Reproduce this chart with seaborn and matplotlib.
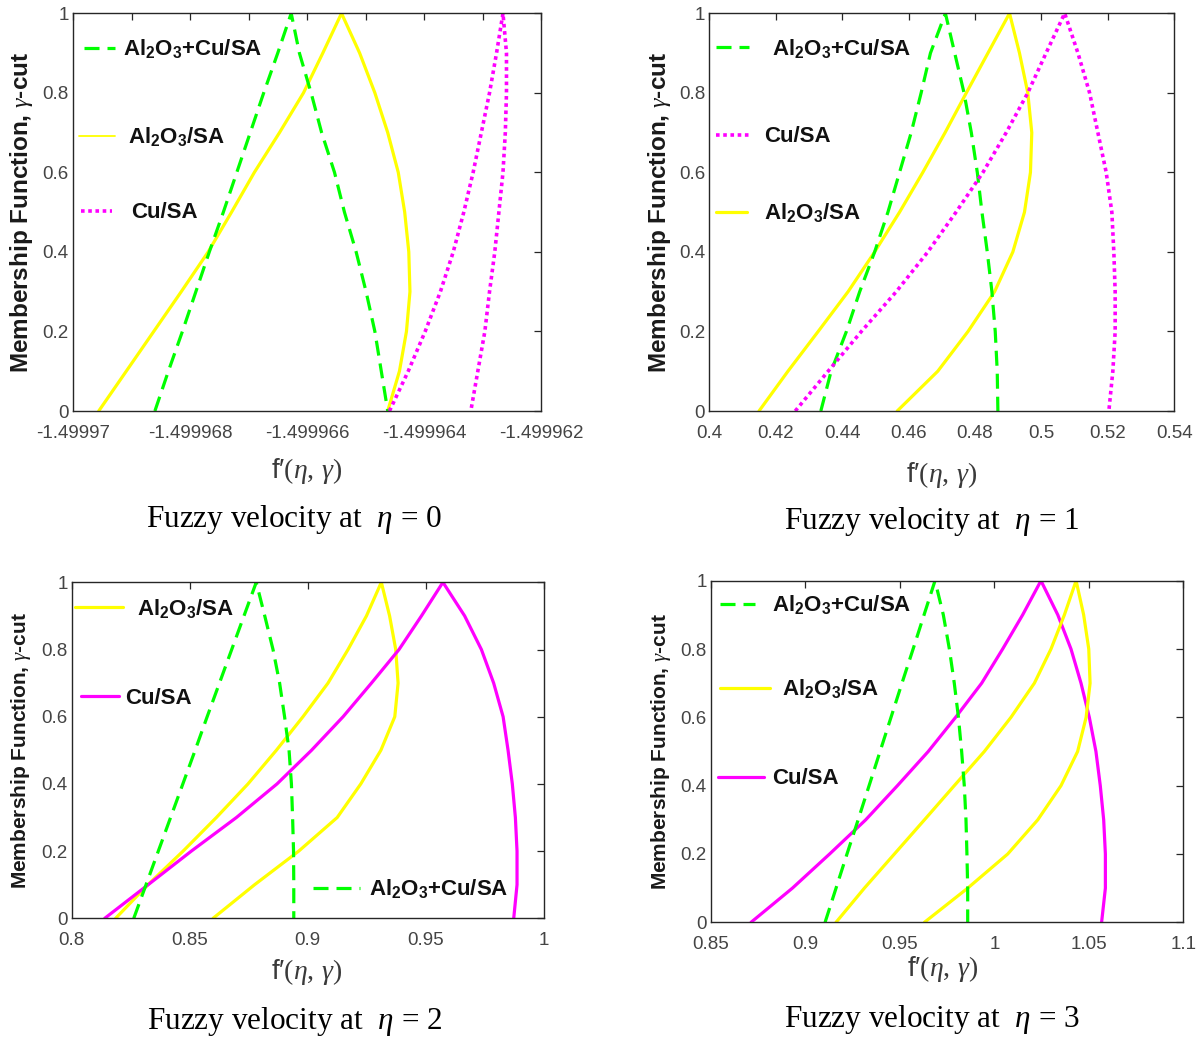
import numpy as np
import pandas as pd
import matplotlib
matplotlib.use("Agg")
import matplotlib.pyplot as plt
from matplotlib.lines import Line2D
from matplotlib.legend import Legend
import seaborn as sns

# ---------------- data ----------------
gamma = [0.0, 0.1, 0.2, 0.3, 0.4, 0.5, 0.6, 0.7, 0.8, 0.9, 1.0]

# eta = 0  (lower / upper bounds of f' for each gamma-cut)
e0_hyb_lo = [-1.4999686, -1.49996837, -1.49996813, -1.4999679, -1.49996767, -1.49996743,
             -1.4999672, -1.49996697, -1.49996674, -1.4999665, -1.49996627]
e0_hyb_hi = [-1.49996462, -1.49996473, -1.49996484, -1.49996499, -1.49996516, -1.49996536,
             -1.49996553, -1.49996575, -1.49996593, -1.49996613, -1.49996627]
e0_al_lo = [-1.49996956, -1.49996909, -1.49996862, -1.49996815, -1.49996769, -1.49996729,
            -1.4999669, -1.49996647, -1.49996606, -1.49996573, -1.49996541]
e0_al_hi = [-1.49996462, -1.49996442, -1.4999643, -1.49996424, -1.49996426, -1.49996433,
            -1.49996444, -1.49996462, -1.49996484, -1.4999651, -1.49996541]
e0_cu_lo = [-1.49996459, -1.49996427, -1.49996398, -1.49996372, -1.4999635, -1.49996332,
            -1.49996316, -1.49996302, -1.49996288, -1.49996276, -1.49996265]
e0_cu_hi = [-1.4999632, -1.49996308, -1.49996296, -1.49996288, -1.49996279, -1.49996272,
            -1.49996265, -1.49996261, -1.49996259, -1.49996259, -1.49996265]

# eta = 1
e1_hyb_lo = [0.4336, 0.4367, 0.4413, 0.4453, 0.4498, 0.4538, 0.4573, 0.4608, 0.4638, 0.4666, 0.4711]
e1_hyb_hi = [0.4869, 0.4867, 0.4861, 0.4851, 0.4837, 0.4821, 0.4807, 0.4789, 0.4767, 0.4739, 0.4711]
e1_al_lo = [0.4150, 0.4237, 0.4328, 0.4418, 0.4498, 0.4573, 0.4643, 0.4710, 0.4774, 0.4839, 0.4904]
e1_al_hi = [0.4566, 0.4688, 0.4779, 0.4859, 0.4914, 0.4949, 0.4967, 0.4971, 0.4959, 0.4934, 0.4904]
e1_cu_lo = [0.4259, 0.4358, 0.4458, 0.4563, 0.4658, 0.4743, 0.4824, 0.4894, 0.4959, 0.5014, 0.5070]
e1_cu_hi = [0.5203, 0.5215, 0.5222, 0.5222, 0.5218, 0.5212, 0.5195, 0.5170, 0.5145, 0.5110, 0.5070]

# eta = 2
e2_hyb_lo = [0.8263, 0.8315, 0.8367, 0.8419, 0.8471, 0.8523, 0.8574, 0.8626, 0.8678, 0.8730, 0.8782]
e2_hyb_hi = [0.8941, 0.8941, 0.8940, 0.8936, 0.8931, 0.8921, 0.8902, 0.8881, 0.8853, 0.8818, 0.8782]
e2_al_lo = [0.8186, 0.8323, 0.8472, 0.8613, 0.8747, 0.8867, 0.8980, 0.9086, 0.9171, 0.9249, 0.9312]
e2_al_hi = [0.8599, 0.8775, 0.8962, 0.9125, 0.9225, 0.9310, 0.9369, 0.9383, 0.9373, 0.9347, 0.9312]
e2_cu_lo = [0.8140, 0.8324, 0.8507, 0.8698, 0.8870, 0.9016, 0.9150, 0.9270, 0.9387, 0.9482, 0.9573]
e2_cu_hi = [0.9873, 0.9887, 0.9887, 0.9880, 0.9867, 0.9849, 0.9828, 0.9788, 0.9736, 0.9665, 0.9573]

# eta = 3
e3_hyb_lo = [0.9104, 0.9162, 0.9220, 0.9279, 0.9337, 0.9395, 0.9453, 0.9511, 0.9570, 0.9628, 0.9686]
e3_hyb_hi = [0.9859, 0.9859, 0.9855, 0.9850, 0.9841, 0.9827, 0.9810, 0.9788, 0.9762, 0.9730, 0.9686]
e3_al_lo = [0.9162, 0.9312, 0.9471, 0.9630, 0.9788, 0.9947, 1.0088, 1.0212, 1.0300, 1.0371, 1.0433]
e3_al_hi = [0.9630, 0.9859, 1.0071, 1.0230, 1.0353, 1.0441, 1.0486, 1.0507, 1.0500, 1.0473, 1.0433]
e3_cu_lo = [0.8712, 0.8931, 0.9128, 0.9319, 0.9487, 0.9650, 0.9795, 0.9933, 1.0044, 1.0150, 1.0247]
e3_cu_hi = [1.0568, 1.0588, 1.0588, 1.0579, 1.0561, 1.0538, 1.0503, 1.0459, 1.0406, 1.0336, 1.0247]

y_ticks = [0, 0.2, 0.4, 0.6, 0.8, 1.0]
y_ticklabels = ["0", "0.2", "0.4", "0.6", "0.8", "1"]

x0_ticks = [-1.49997, -1.499969, -1.499968, -1.499967, -1.499966, -1.499965, -1.499964, -1.499963, -1.499962]
x0_ticklabels = ["-1.49997", "", "-1.499968", "", "-1.499966", "", "-1.499964", "", "-1.499962"]
x1_ticks = [0.40, 0.42, 0.44, 0.46, 0.48, 0.50, 0.52, 0.54]
x1_ticklabels = ["0.4", "0.42", "0.44", "0.46", "0.48", "0.5", "0.52", "0.54"]
x2_ticks = [0.80, 0.85, 0.90, 0.95, 1.00]
x2_ticklabels = ["0.8", "0.85", "0.9", "0.95", "1"]
x3_ticks = [0.85, 0.90, 0.95, 1.00, 1.05, 1.10]
x3_ticklabels = ["0.85", "0.9", "0.95", "1", "1.05", "1.1"]

lab_hyb = r"Al$_\mathbf{2}$O$_\mathbf{3}$+Cu/SA"
lab_al = r"Al$_\mathbf{2}$O$_\mathbf{3}$/SA"
lab_cu = "Cu/SA"

x_label = "f\u2032" + r"$(\eta,\,\gamma)$"
y_label = r"Membership Function, $\gamma$-cut"

captions = [r"Fuzzy velocity at  $\eta$ = 0", r"Fuzzy velocity at  $\eta$ = 1",
            r"Fuzzy velocity at  $\eta$ = 2", r"Fuzzy velocity at  $\eta$ = 3"]

# ---------------- style ----------------
sns.set_style("white")
plt.rcParams["font.family"] = ["Liberation Sans", "DejaVu Sans"]
plt.rcParams["mathtext.fontset"] = "custom"
plt.rcParams["mathtext.rm"] = "Liberation Serif"
plt.rcParams["mathtext.it"] = "Liberation Serif:italic"
plt.rcParams["mathtext.bf"] = "Liberation Sans:bold"
plt.rcParams["mathtext.sf"] = "Liberation Sans"

W, H = 1203, 1041
fig = plt.figure(figsize=(W / 100, H / 100), dpi=100)
fig.patch.set_facecolor("white")

GREEN = "#00FF00"
YELLOW = "#FFFF00"
MAGENTA = "#FF00FF"
DASH = (4.7, 2.5)
DOT = (1.0, 1.0)
FRAME = "#262626"
TICKC = "#444444"


def add_axes_px(left, right, top, bottom):
    return fig.add_axes([left / W, 1 - bottom / H, (right - left) / W, (bottom - top) / H])


def draw(ax, lo, hi, color, pattern=None, lw=2.3):
    df = pd.DataFrame({"f": list(lo) + list(hi)[::-1], "g": gamma + gamma[::-1]})
    sns.lineplot(data=df, x="f", y="g", sort=False, estimator=None, color=color,
                 lw=lw, ax=ax, legend=False)
    line = ax.lines[-1]
    line.set_solid_joinstyle("round")
    if pattern is not None:
        line.set_dashes(pattern)
        line.set_dash_capstyle("butt")


def key(ax, px0, px1, pxt, py, label, color, lw=2.3, pattern=None, fs=16):
    h = Line2D([], [], color=color, lw=lw)
    if pattern is not None:
        h.set_dashes(pattern)
        h.set_dash_capstyle("butt")
    fs_px = fs / 72 * 100
    bb = ax.get_position()
    axx = (px0 / W - bb.x0) / bb.width
    axy = ((1 - py / H) - bb.y0) / bb.height
    leg = Legend(ax, [h], [label], loc="center left", bbox_to_anchor=(axx, axy),
                 frameon=False, borderpad=0, borderaxespad=0,
                 handlelength=(px1 - px0) / fs_px, handletextpad=(pxt - px1) / fs_px,
                 prop={"family": "Liberation Sans", "weight": "bold", "size": fs},
                 labelcolor="#111111")
    ax.add_artist(leg)


def style_axes(ax, xlim, xticks, xticklabels, rect, ylab_right, ylab_fs, xlab_top, xlab_cx):
    left, right, top, bottom = rect
    ax.set_xlim(*xlim)
    ax.set_ylim(0, 1)
    ax.set_xticks(xticks)
    ax.set_xticklabels(xticklabels)
    ax.set_yticks(y_ticks)
    ax.set_yticklabels(y_ticklabels)
    ax.tick_params(direction="in", length=5, width=0.9, color=FRAME, top=True, right=True,
                   labelsize=13.5, labelcolor=TICKC)
    ax.tick_params(axis="x", pad=10)
    ax.tick_params(axis="y", pad=3)
    for s in ax.spines.values():
        s.set_visible(True)
        s.set_color(FRAME)
        s.set_linewidth(1.0)
    ax.set_ylabel(y_label, fontsize=ylab_fs, fontweight="bold", color="#1a1a1a")
    ax.yaxis.set_label_coords((ylab_right - left) / (right - left), 0.5)
    ax.set_xlabel(x_label, fontsize=20, color="#3a3a3a")
    ax.xaxis.set_label_coords((xlab_cx - left) / (right - left), -(xlab_top - bottom) / (bottom - top))


# ---- panel eta = 0 ----
r0 = (73, 541, 13.3, 411)
ax0 = add_axes_px(*r0)
draw(ax0, e0_al_lo, e0_al_hi, YELLOW)
draw(ax0, e0_hyb_lo, e0_hyb_hi, GREEN, DASH)
draw(ax0, e0_cu_lo, e0_cu_hi, MAGENTA, DOT, lw=2.6)
style_axes(ax0, (-1.49997, -1.499962), x0_ticks, x0_ticklabels, r0, 35, 17.5, 456, 307)
key(ax0, 84, 115, 123, 49, lab_hyb, GREEN, pattern=DASH)
key(ax0, 79, 115, 128, 137, lab_al, YELLOW, lw=1.3)
key(ax0, 81, 112, 131, 213, lab_cu, MAGENTA, lw=2.6, pattern=DOT)

# ---- panel eta = 1 ----
r1 = (709.2, 1174.3, 13.3, 411)
ax1 = add_axes_px(*r1)
draw(ax1, e1_al_lo, e1_al_hi, YELLOW)
draw(ax1, e1_hyb_lo, e1_hyb_hi, GREEN, DASH)
draw(ax1, e1_cu_lo, e1_cu_hi, MAGENTA, DOT, lw=2.6)
style_axes(ax1, (0.40, 0.54), x1_ticks, x1_ticklabels, r1, 673, 17.5, 460, 942)
key(ax1, 716, 749, 772, 48, lab_hyb, GREEN, pattern=DASH)
key(ax1, 716, 752, 764, 137, lab_cu, MAGENTA, lw=2.6, pattern=DOT)
key(ax1, 716, 747, 764, 213, lab_al, YELLOW)

# ---- panel eta = 2 ----
r2 = (71.7, 543.7, 582.3, 918.3)
ax2 = add_axes_px(*r2)
draw(ax2, e2_al_lo, e2_al_hi, YELLOW)
draw(ax2, e2_cu_lo, e2_cu_hi, MAGENTA)
draw(ax2, e2_hyb_lo, e2_hyb_hi, GREEN, DASH)
style_axes(ax2, (0.80, 1.00), x2_ticks, x2_ticklabels, r2, 33, 15, 957, 307)
key(ax2, 75, 123, 137, 608, lab_al, YELLOW)
key(ax2, 81, 119, 125, 698, lab_cu, MAGENTA)
key(ax2, 313, 360, 369, 889, lab_hyb, GREEN, pattern=DASH)

# ---- panel eta = 3 ----
r3 = (711, 1183.2, 580.7, 922.3)
ax3 = add_axes_px(*r3)
draw(ax3, e3_cu_lo, e3_cu_hi, MAGENTA)
draw(ax3, e3_al_lo, e3_al_hi, YELLOW)
draw(ax3, e3_hyb_lo, e3_hyb_hi, GREEN, DASH)
style_axes(ax3, (0.85, 1.10), x3_ticks, x3_ticklabels, r3, 673, 15, 954, 943)
key(ax3, 720, 755, 772, 605, lab_hyb, GREEN, pattern=DASH)
key(ax3, 720, 770, 782, 689, lab_al, YELLOW)
key(ax3, 718, 764, 772, 779, lab_cu, MAGENTA)

# ---- captions ----
for (cx, cy), txt in zip([(294, 520), (932, 521), (295, 1022), (932, 1019)], captions):
    fig.text(cx / W, 1 - cy / H, txt, ha="center", va="center", fontsize=22.5,
             family="Liberation Serif", color="black")

fig.savefig("out.png", dpi=100, facecolor="white")
